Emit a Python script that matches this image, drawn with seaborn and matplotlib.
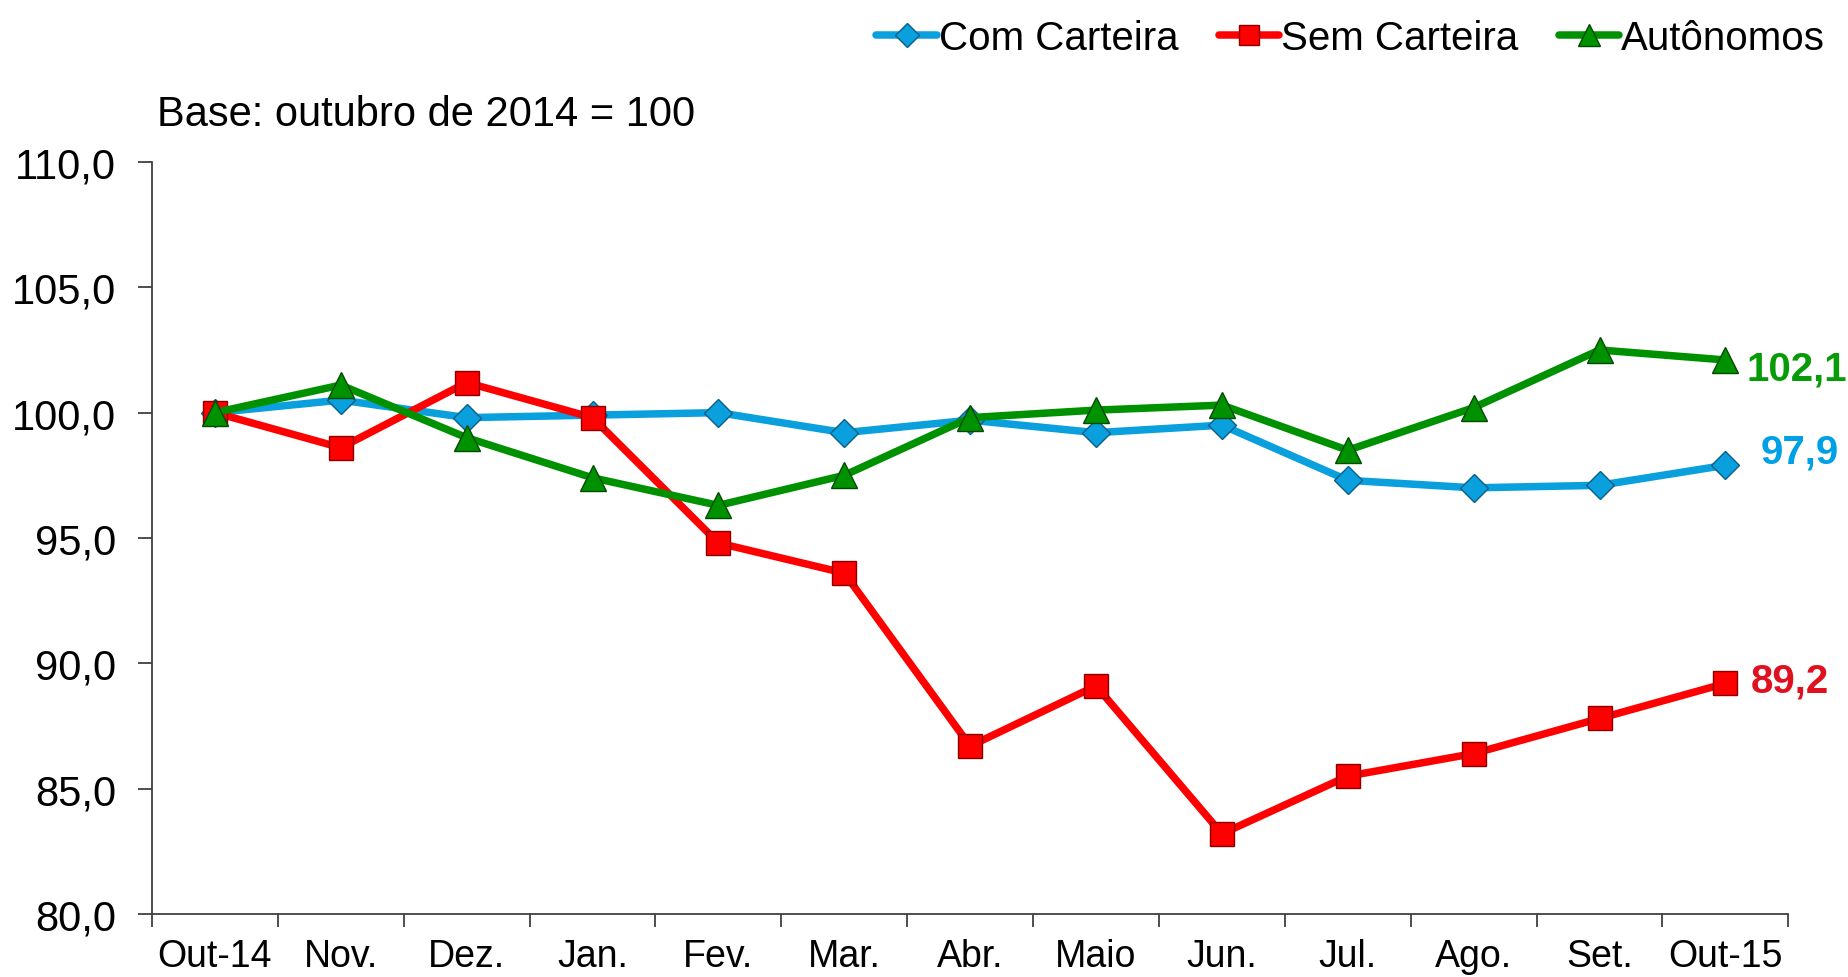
import numpy as np
import pandas as pd
import seaborn as sns
import matplotlib.pyplot as plt
from matplotlib.ticker import FixedLocator, FuncFormatter

# Data (index, Oct 2014 = 100)
months = ['Out-14', 'Nov.', 'Dez.', 'Jan.', 'Fev.', 'Mar.', 'Abr.',
          'Maio', 'Jun.', 'Jul.', 'Ago.', 'Set.', 'Out-15']
com_carteira = [100.0, 100.5, 99.8, 99.9, 100.0, 99.2, 99.7, 99.2, 99.5, 97.3, 97.0, 97.1, 97.9]
sem_carteira = [100.0, 98.6, 101.2, 99.8, 94.8, 93.6, 86.7, 89.1, 83.2, 85.5, 86.4, 87.8, 89.2]
autonomos = [100.0, 101.1, 99.0, 97.4, 96.3, 97.5, 99.8, 100.1, 100.3, 98.5, 100.2, 102.5, 102.1]

series = ['Com Carteira', 'Sem Carteira', 'Autônomos']
colors = {'Com Carteira': '#0A9FDD', 'Sem Carteira': '#FF0000', 'Autônomos': '#009100'}
edges = {'Com Carteira': '#0A5F8A', 'Sem Carteira': '#8A0000', 'Autônomos': '#004A00'}
markers = {'Com Carteira': 'D', 'Sem Carteira': 's', 'Autônomos': '^'}
msizes = {'Com Carteira': 14, 'Sem Carteira': 17, 'Autônomos': 19}
label_colors = {'Com Carteira': '#00A0E6', 'Sem Carteira': '#E0101E', 'Autônomos': '#089B08'}

df = pd.DataFrame({
    'pos': list(range(len(months))) * 3,
    'valor': com_carteira + sem_carteira + autonomos,
    'serie': [s for s in series for _ in months],
})

sns.set_style('white')
plt.rcParams['font.family'] = ['Liberation Sans', 'DejaVu Sans']
plt.rcParams['text.color'] = 'black'
plt.rcParams['xtick.color'] = 'black'
plt.rcParams['ytick.color'] = 'black'

fig = plt.figure(figsize=(18.49, 9.78), dpi=100)
ax = fig.add_axes([0.0822, 0.0644, 0.885, 0.769])

for s in series:
    sub = df[df['serie'] == s]
    sns.lineplot(data=sub, x='pos', y='valor', ax=ax, color=colors[s], lw=5.4,
                 marker=markers[s], markersize=msizes[s], markeredgecolor=edges[s],
                 markeredgewidth=1.0, label=s, zorder=3 if s != 'Autônomos' else 4)

ax.set_xlim(-0.5, len(months) - 0.5)
ax.set_ylim(80, 110)
ax.set_xlabel('')
ax.set_ylabel('')

ax.set_xticks(range(len(months)))
ax.set_xticklabels(months, fontsize=27)
ax.xaxis.set_minor_locator(FixedLocator(np.arange(-0.5, len(months), 1.0)))
ax.tick_params(axis='x', which='major', bottom=False, length=0, pad=17, labelcolor='black')
ax.tick_params(axis='x', which='minor', bottom=True, length=9, width=1.3,
               color='#404040', direction='out')

ax.set_yticks(np.arange(80, 111, 5))
ax.yaxis.set_major_formatter(FuncFormatter(lambda v, p: f'{v:.1f}'.replace('.', ',')))
ax.tick_params(axis='y', which='major', left=True, length=10, width=1.3, color='#404040',
               direction='out', labelsize=30, pad=16, labelcolor='black')

for side in ['top', 'right']:
    ax.spines[side].set_visible(False)
for side in ['left', 'bottom']:
    ax.spines[side].set_color('#404040')
    ax.spines[side].set_linewidth(1.3)

# End-of-series labels
last = len(months) - 1
ax.annotate('102,1', (last, autonomos[-1]), xytext=(15, -6), textcoords='offset points',
            ha='left', va='center', fontsize=29, fontweight='bold', color=label_colors['Autônomos'])
ax.annotate('97,9', (last, com_carteira[-1]), xytext=(25, 10), textcoords='offset points',
            ha='left', va='center', fontsize=29, fontweight='bold', color=label_colors['Com Carteira'])
ax.annotate('89,2', (last, sem_carteira[-1]), xytext=(18, 2), textcoords='offset points',
            ha='left', va='center', fontsize=29, fontweight='bold', color=label_colors['Sem Carteira'])

fig.text(0.085, 0.882, 'Base: outubro de 2014 = 100', fontsize=30, ha='left', va='center',
         color='black')

leg = ax.legend(loc='upper right', bbox_to_anchor=(0.998, 1.0), bbox_transform=fig.transFigure,
                ncol=3, frameon=False, fontsize=29, handlelength=1.5, handletextpad=0.05,
                columnspacing=1.0, borderaxespad=0.1, markerscale=0.85)
for t in leg.get_texts():
    t.set_color('black')

fig.savefig('out.png', dpi=100)
